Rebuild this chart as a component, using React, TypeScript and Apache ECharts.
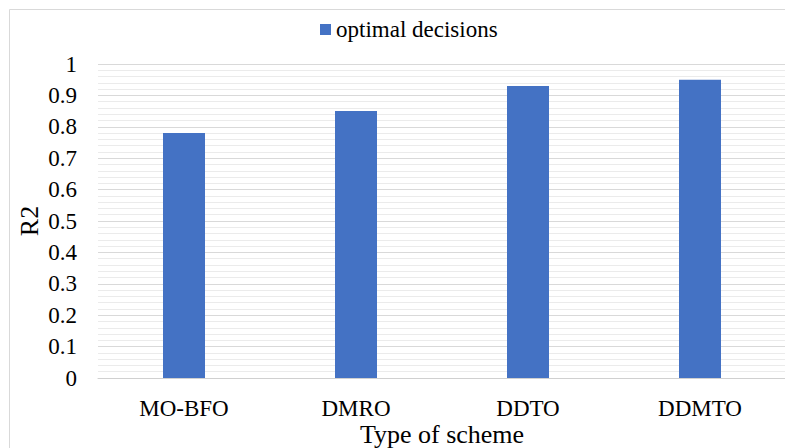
import React, { useEffect, useRef } from "react";
import * as echarts from "echarts";

const categories = ["MO-BFO", "DMRO", "DDTO", "DDMTO"];
const seriesName = "optimal decisions";
const values = [0.78, 0.85, 0.93, 0.95];
const yTicks = { min: 0, max: 1, interval: 0.1 };
const xTitle = "Type of scheme";
const yTitle = "R2";

const FONT = "Liberation Serif";

export default function App() {
  const ref = useRef<HTMLDivElement>(null);
  useEffect(() => {
    if (!ref.current) return;
    const chart = echarts.init(ref.current, null, { renderer: "svg" });
    chart.setOption({
      animation: false,
      backgroundColor: "#ffffff",
      textStyle: { fontFamily: FONT },
      graphic: [
        {
          type: "rect",
          shape: { x: 9.5, y: 9.5, width: 820, height: 500 },
          style: { fill: "none", stroke: "#d9d9d9", lineWidth: 1 },
          silent: true,
          z: -1,
        },
      ],
      legend: {
        data: [seriesName],
        left: 315,
        top: 13,
        icon: "rect",
        itemWidth: 11,
        itemHeight: 11,
        itemGap: 6,
        textStyle: { fontFamily: FONT, fontSize: 23, color: "#000" },
      },
      grid: {
        left: 98,
        right: -1,
        top: 64,
        bottom: 70,
        containLabel: false,
        outerBoundsMode: "none",
      },
      xAxis: {
        type: "category",
        data: categories,
        name: xTitle,
        nameLocation: "middle",
        nameGap: 43,
        nameMoveOverlap: false,
        nameTextStyle: { fontFamily: FONT, fontSize: 26, color: "#000" },
        axisLine: { show: true, lineStyle: { color: "#d0d0d0", width: 1 } },
        axisTick: { show: false },
        axisLabel: { fontFamily: FONT, fontSize: 23, color: "#000", margin: 19 },
      },
      yAxis: {
        type: "value",
        min: yTicks.min,
        max: yTicks.max,
        interval: yTicks.interval,
        name: yTitle,
        nameLocation: "middle",
        nameGap: 56,
        nameRotate: 90,
        nameMoveOverlap: false,
        nameTextStyle: { fontFamily: FONT, fontSize: 26, color: "#000" },
        axisLine: { show: false },
        axisTick: { show: false },
        axisLabel: { fontFamily: FONT, fontSize: 23, color: "#000", margin: 21 },
        splitLine: { show: true, lineStyle: { color: "#d9d9d9", width: 1 } },
        minorTick: { show: false, splitNumber: 5 },
        minorSplitLine: { show: true, lineStyle: { color: "#ebebeb", width: 1 } },
      },
      series: [
        {
          name: seriesName,
          type: "bar",
          data: values,
          barWidth: 42,
          itemStyle: { color: "#4472C4" },
        },
      ],
    });
    return () => chart.dispose();
  }, []);
  return (
    <div
      ref={ref}
      style={{ position: "fixed", left: 0, top: 0, width: 785, height: 448 }}
    />
  );
}
